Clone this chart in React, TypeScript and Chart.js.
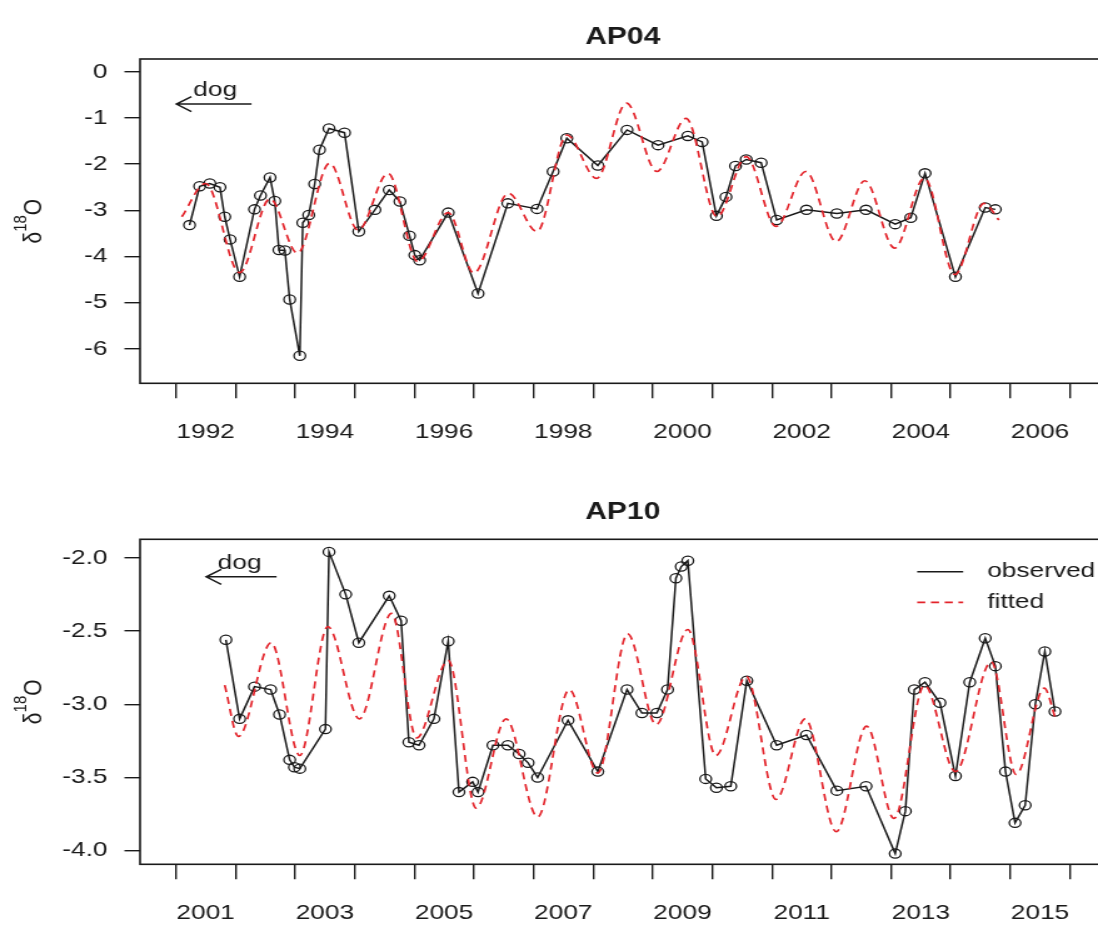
import { useEffect, useRef } from "react";
import { Chart, registerables } from "chart.js";

Chart.register(...registerables);

// ---- AP04 ----
const ap04ObsYears = [
  1992.23, 1992.4, 1992.57, 1992.74, 1992.82, 1992.91, 1993.07, 1993.32, 1993.42, 1993.58,
  1993.66, 1993.73, 1993.83, 1993.91, 1994.08, 1994.13, 1994.23, 1994.33, 1994.41, 1994.57,
  1994.83, 1995.07, 1995.34, 1995.58, 1995.76, 1995.92, 1996.01, 1996.09, 1996.57, 1997.07,
  1997.57, 1998.06, 1998.33, 1998.56, 1999.08, 1999.57, 2000.09, 2000.59, 2000.83, 2001.07,
  2001.23, 2001.39, 2001.57, 2001.82, 2002.08, 2002.58, 2003.09, 2003.58, 2004.07, 2004.33,
  2004.57, 2005.08, 2005.58, 2005.75,
];
const ap04ObsValues = [
  -3.32, -2.48, -2.42, -2.5, -3.14, -3.63, -4.44, -2.98, -2.68, -2.29,
  -2.8, -3.86, -3.87, -4.93, -6.15, -3.27, -3.1, -2.43, -1.69, -1.23,
  -1.32, -3.46, -2.99, -2.56, -2.81, -3.55, -3.97, -4.08, -3.05, -4.8,
  -2.85, -2.97, -2.16, -1.44, -2.03, -1.26, -1.59, -1.39, -1.52, -3.12,
  -2.71, -2.04, -1.9, -1.97, -3.21, -2.99, -3.07, -2.99, -3.3, -3.16,
  -2.2, -4.44, -2.94, -2.98,
];
const ap04FitYears = [
  1992.1, 1992.5, 1993.07, 1993.58, 1994.04, 1994.58, 1995.06, 1995.56, 1996.06, 1996.57,
  1997.0, 1997.58, 1998.06, 1998.56, 1999.06, 1999.56, 2000.07, 2000.56, 2001.08, 2001.57,
  2002.07, 2002.57, 2003.08, 2003.56, 2004.06, 2004.56, 2005.07, 2005.56, 2005.81,
];
const ap04FitValues = [
  -3.14, -2.42, -4.35, -2.75, -3.93, -1.98, -3.43, -2.2, -4.11, -3.05,
  -4.36, -2.63, -3.46, -1.37, -2.31, -0.68, -2.16, -1.01, -3.14, -1.84,
  -3.35, -2.16, -3.68, -2.36, -3.82, -2.3, -4.39, -2.85, -3.21,
];
const ap04TickYears = [1992, 1993, 1994, 1995, 1996, 1997, 1998, 1999, 2000, 2001, 2002, 2003, 2004, 2005, 2006, 2007];
const ap04LabelYears = [1992, 1994, 1996, 1998, 2000, 2002, 2004, 2006];
const ap04YTicks = [0, -1, -2, -3, -4, -5, -6];

// ---- AP10 ----
const ap10ObsYears = [
  2001.84, 2002.07, 2002.32, 2002.59, 2002.74, 2002.91, 2002.99, 2003.08, 2003.51, 2003.57,
  2003.85, 2004.07, 2004.58, 2004.78, 2004.91, 2005.08, 2005.33, 2005.57, 2005.75, 2005.98,
  2006.07, 2006.32, 2006.57, 2006.76, 2006.91, 2007.07, 2007.58, 2008.08, 2008.57, 2008.82,
  2009.07, 2009.25, 2009.39, 2009.48, 2009.59, 2009.89, 2010.07, 2010.31, 2010.58, 2011.08,
  2011.58, 2012.09, 2012.58, 2013.07, 2013.24, 2013.39, 2013.57, 2013.82, 2014.08, 2014.32,
  2014.58, 2014.75, 2014.92, 2015.08, 2015.25, 2015.42, 2015.58, 2015.75,
];
const ap10ObsValues = [
  -2.56, -3.1, -2.88, -2.9, -3.07, -3.38, -3.43, -3.44, -3.17, -1.96,
  -2.25, -2.58, -2.26, -2.43, -3.26, -3.28, -3.1, -2.57, -3.6, -3.53,
  -3.6, -3.28, -3.28, -3.34, -3.4, -3.5, -3.11, -3.46, -2.9, -3.06,
  -3.06, -2.9, -2.14, -2.06, -2.02, -3.51, -3.57, -3.56, -2.84, -3.28,
  -3.21, -3.59, -3.56, -4.02, -3.73, -2.9, -2.85, -2.99, -3.49, -2.85,
  -2.55, -2.74, -3.46, -3.81, -3.69, -3.0, -2.64, -3.05,
];
const ap10FitYears = [
  2001.82, 2002.05, 2002.6, 2003.08, 2003.55, 2004.08, 2004.62, 2005.04, 2005.57, 2006.04,
  2006.54, 2007.07, 2007.6, 2008.08, 2008.58, 2009.06, 2009.59, 2010.06, 2010.57, 2011.07,
  2011.56, 2012.08, 2012.59, 2013.05, 2013.56, 2014.08, 2014.68, 2015.1, 2015.57, 2015.76,
];
const ap10FitValues = [
  -2.87, -3.22, -2.58, -3.35, -2.47, -3.1, -2.38, -3.23, -2.7, -3.71,
  -3.1, -3.77, -2.9, -3.47, -2.52, -3.14, -2.49, -3.35, -2.81, -3.65,
  -3.1, -3.87, -3.15, -3.78, -2.87, -3.46, -2.71, -3.48, -2.89, -3.1,
];
const ap10TickYears = [2001, 2002, 2003, 2004, 2005, 2006, 2007, 2008, 2009, 2010, 2011, 2012, 2013, 2014, 2015, 2016];
const ap10LabelYears = [2001, 2003, 2005, 2007, 2009, 2011, 2013, 2015];
const ap10YTicks = [-2.0, -2.5, -3.0, -3.5, -4.0];

// ---- drawing setup ----
// The canvases are drawn narrow and widened horizontally by CSS.
const STRETCH = 1.25;
const CANVAS_W = 890;
const AREA_LEFT = 112;
const AREA_RIGHT = 884.8;
const FONT = "'Liberation Sans', Arial, Helvetica, sans-serif";
const FONT_SIZE = 21;
const TITLE_SIZE = 24;
const SUP_SIZE = 15;
const INK = "#1a1a1a";
const RED = "#e3232a";

type PanelSpec = {
  title: string;
  obsYears: number[];
  obsValues: number[];
  fitYears: number[];
  fitValues: number[];
  tickYears: number[];
  labelYears: number[];
  yTicks: number[];
  yDecimals: number;
  xMin: number;
  xMax: number;
  yMin: number;
  yMax: number;
  pageTop: number;
  height: number;
  areaTop: number;
  areaBottom: number;
  titleY: number;
  arrowFrom: number;
  arrowTo: number;
  arrowY: number;
  noteX: number;
  noteY: number;
  legend: boolean;
};

const panels: PanelSpec[] = [
  {
    title: "AP04",
    obsYears: ap04ObsYears,
    obsValues: ap04ObsValues,
    fitYears: ap04FitYears,
    fitValues: ap04FitValues,
    tickYears: ap04TickYears,
    labelYears: ap04LabelYears,
    yTicks: ap04YTicks,
    yDecimals: 0,
    xMin: 1991.4,
    xMax: 2007.6,
    yMin: -6.745,
    yMax: 0.275,
    pageTop: 0,
    height: 465,
    areaTop: 59,
    areaBottom: 383.3,
    titleY: 37,
    arrowFrom: 1993.27,
    arrowTo: 1992.01,
    arrowY: -0.7,
    noteX: 1992.66,
    noteY: -0.52,
    legend: false,
  },
  {
    title: "AP10",
    obsYears: ap10ObsYears,
    obsValues: ap10ObsValues,
    fitYears: ap10FitYears,
    fitValues: ap10FitValues,
    tickYears: ap10TickYears,
    labelYears: ap10LabelYears,
    yTicks: ap10YTicks,
    yDecimals: 1,
    xMin: 2000.4,
    xMax: 2016.6,
    yMin: -4.093,
    yMax: -1.874,
    pageTop: 465,
    height: 464,
    areaTop: 74.3,
    areaBottom: 399.3,
    titleY: 47,
    arrowFrom: 2002.69,
    arrowTo: 2001.51,
    arrowY: -2.13,
    noteX: 2002.07,
    noteY: -2.075,
    legend: true,
  },
];

function drawAxisTitle(ctx: CanvasRenderingContext2D, cx: number, cy: number) {
  ctx.save();
  ctx.translate(cx, cy);
  ctx.rotate(-Math.PI / 2);
  const big = `${FONT_SIZE}px ${FONT}`;
  const small = `${SUP_SIZE}px ${FONT}`;
  ctx.font = big;
  const wd = ctx.measureText("δ").width;
  const wo = ctx.measureText("O").width;
  ctx.font = small;
  const ws = ctx.measureText("18").width;
  let x = -(wd + ws + wo) / 2;
  ctx.textAlign = "left";
  ctx.textBaseline = "middle";
  ctx.fillStyle = INK;
  ctx.font = big;
  ctx.fillText("δ", x, 0);
  x += wd;
  ctx.font = small;
  ctx.fillText("18", x, -10);
  x += ws;
  ctx.font = big;
  ctx.fillText("O", x, 0);
  ctx.restore();
}

function makeDecor(p: PanelSpec) {
  return {
    id: "panelDecor",
    afterDraw(chart: Chart) {
      const { ctx, chartArea: a } = chart;
      const xs = chart.scales.x;
      const ys = chart.scales.y;
      ctx.save();
      ctx.setLineDash([]);
      ctx.strokeStyle = INK;
      ctx.fillStyle = INK;

      // plot frame
      ctx.lineWidth = 1.6;
      ctx.strokeRect(a.left, a.top, a.right - a.left, a.bottom - a.top);

      // panel title
      ctx.font = `bold ${TITLE_SIZE}px ${FONT}`;
      ctx.textAlign = "center";
      ctx.textBaseline = "middle";
      ctx.fillText(p.title, (a.left + a.right) / 2, p.titleY);

      // y axis title
      drawAxisTitle(ctx, 27.2, (a.top + a.bottom) / 2);

      // direction note with arrow
      const x0 = xs.getPixelForValue(p.arrowFrom);
      const x1 = xs.getPixelForValue(p.arrowTo);
      const ay = ys.getPixelForValue(p.arrowY);
      ctx.lineWidth = 1.5;
      ctx.beginPath();
      ctx.moveTo(x0, ay);
      ctx.lineTo(x1, ay);
      ctx.moveTo(x1 + 12, ay - 7.5);
      ctx.lineTo(x1, ay);
      ctx.lineTo(x1 + 12, ay + 7.5);
      ctx.stroke();
      ctx.font = `${FONT_SIZE}px ${FONT}`;
      ctx.textAlign = "center";
      ctx.textBaseline = "alphabetic";
      ctx.fillText("dog", xs.getPixelForValue(p.noteX), ys.getPixelForValue(p.noteY));

      // legend
      if (p.legend) {
        const lx0 = 733.4;
        const lx1 = 770.2;
        const tx = 789.4;
        const y1 = 106.7;
        const y2 = 137.3;
        ctx.lineWidth = 1.5;
        ctx.strokeStyle = INK;
        ctx.beginPath();
        ctx.moveTo(lx0, y1);
        ctx.lineTo(lx1, y1);
        ctx.stroke();
        ctx.strokeStyle = RED;
        ctx.lineWidth = 1.7;
        ctx.setLineDash([6.5, 4.5]);
        ctx.beginPath();
        ctx.moveTo(lx0, y2);
        ctx.lineTo(lx1, y2);
        ctx.stroke();
        ctx.setLineDash([]);
        ctx.fillStyle = INK;
        ctx.textAlign = "left";
        ctx.textBaseline = "middle";
        ctx.font = `${FONT_SIZE}px ${FONT}`;
        ctx.fillText("observed", tx, y1);
        ctx.fillText("fitted", tx, y2);
      }
      ctx.restore();
    },
  };
}

function Panel({ spec }: { spec: PanelSpec }) {
  const ref = useRef<HTMLCanvasElement>(null);

  useEffect(() => {
    const canvas = ref.current;
    if (!canvas) return;
    const p = spec;
    const observed = p.obsYears.map((x, i) => ({ x, y: p.obsValues[i] }));
    const fitted = p.fitYears.map((x, i) => ({ x, y: p.fitValues[i] }));
    const labelTicks = p.labelYears.map((y) => y + 0.5);
    const xTicks = [...p.tickYears, ...labelTicks].sort((a, b) => a - b);

    const chart = new Chart(canvas, {
      type: "line",
      data: {
        datasets: [
          {
            label: "observed",
            data: observed,
            borderColor: INK,
            borderWidth: 1.5,
            pointRadius: 4.6,
            pointBorderWidth: 1.3,
            pointBorderColor: INK,
            pointBackgroundColor: "rgba(0,0,0,0)",
            tension: 0,
            order: 1,
          },
          {
            label: "fitted",
            data: fitted,
            borderColor: RED,
            borderWidth: 1.7,
            borderDash: [7, 5],
            pointRadius: 0,
            cubicInterpolationMode: "monotone",
            order: 0,
          },
        ],
      },
      options: {
        responsive: false,
        animation: false,
        events: [],
        layout: {
          padding: { left: 0, right: CANVAS_W - AREA_RIGHT, top: p.areaTop, bottom: 0 },
        },
        plugins: {
          legend: { display: false },
          tooltip: { enabled: false },
          title: { display: false },
        },
        scales: {
          x: {
            type: "linear",
            min: p.xMin,
            max: p.xMax,
            bounds: "data",
            afterBuildTicks: (scale: any) => {
              scale.ticks = xTicks.map((value) => ({ value }));
            },
            afterFit: (scale: any) => {
              scale.height = p.height - p.areaBottom;
            },
            border: { display: false },
            grid: {
              display: true,
              drawOnChartArea: false,
              drawTicks: true,
              tickLength: 15,
              lineWidth: 1.4,
              color: INK,
              tickColor: (ctx: any) =>
                ctx.tick && Number.isInteger(ctx.tick.value) ? INK : "rgba(0,0,0,0)",
            },
            ticks: {
              autoSkip: false,
              maxRotation: 0,
              minRotation: 0,
              padding: 21.5,
              color: INK,
              font: { family: FONT, size: FONT_SIZE },
              callback: (value: any) => {
                const v = Number(value);
                return Number.isInteger(v) ? "" : String(Math.round(v - 0.5));
              },
            },
          },
          y: {
            type: "linear",
            min: p.yMin,
            max: p.yMax,
            bounds: "data",
            afterBuildTicks: (scale: any) => {
              scale.ticks = p.yTicks.map((value) => ({ value }));
            },
            afterFit: (scale: any) => {
              scale.width = AREA_LEFT;
            },
            border: { display: false },
            grid: {
              display: true,
              drawOnChartArea: false,
              drawTicks: true,
              tickLength: 12.5,
              lineWidth: 1.4,
              color: INK,
              tickColor: INK,
            },
            ticks: {
              padding: 13.5,
              color: INK,
              font: { family: FONT, size: FONT_SIZE },
              callback: (value: any) => Number(value).toFixed(p.yDecimals),
            },
          },
        },
      },
      plugins: [makeDecor(p)],
    } as any);

    return () => chart.destroy();
  }, [spec]);

  return (
    <canvas
      ref={ref}
      width={CANVAS_W}
      height={spec.height}
      style={{
        position: "absolute",
        left: 0,
        top: spec.pageTop,
        width: `${CANVAS_W * STRETCH}px`,
        height: `${spec.height}px`,
      }}
    />
  );
}

export default function App() {
  return (
    <div
      style={{
        position: "fixed",
        left: 0,
        top: 0,
        width: 1098,
        height: 929,
        overflow: "hidden",
        background: "#ffffff",
      }}
    >
      {panels.map((p) => (
        <Panel key={p.title} spec={p} />
      ))}
    </div>
  );
}
